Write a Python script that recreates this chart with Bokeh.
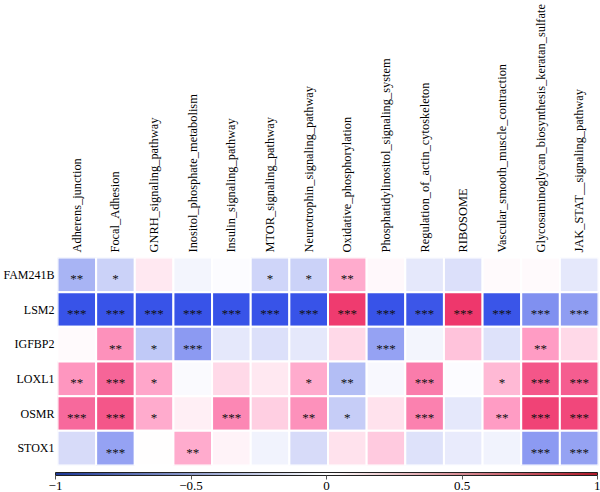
import numpy as np
from bokeh.plotting import figure
from bokeh.models import (ColumnDataSource, LinearColorMapper, ColorBar, FixedTicker)
from bokeh.core.properties import value
from bokeh.embed import file_html
from bokeh.resources import INLINE

# Pathways (columns) and genes (rows, top to bottom)
pathways = [
    "Adherens_junction", "Focal_Adhesion", "GNRH_signaling_pathway",
    "Inositol_phosphate_metabolism", "Insulin_signaling_pathway",
    "MTOR_signaling_pathway", "Neurotrophin_signaling_pathway",
    "Oxidative_phosphorylation", "Phosphatidylinositol_signaling_system",
    "Regulation_of_actin_cytoskeleton", "RIBOSOME",
    "Vascular_smooth_muscle_contraction",
    "Glycosaminoglycan_biosynthesis_keratan_sulfate",
    "JAK_STAT__signaling_pathway",
]
genes = ["FAM241B", "LSM2", "IGFBP2", "LOXL1", "OSMR", "STOX1"]

# Correlation coefficients, one list per gene (same order as pathways)
r_fam241b = [-0.35, -0.20, 0.10, -0.04, -0.01, -0.18, -0.20, 0.30, 0.03, -0.10, -0.13, 0.02, 0.02, -0.10]
r_lsm2 = [-0.86, -0.86, -0.86, -0.86, -0.86, -0.86, -0.86, 0.84, -0.86, -0.84, 0.86, -0.85, -0.55, -0.48]
r_igfbp2 = [0.02, 0.40, -0.25, -0.50, -0.10, -0.13, -0.10, 0.15, -0.45, -0.04, 0.22, -0.12, 0.35, 0.15]
r_loxl1 = [0.38, 0.62, 0.32, -0.02, 0.15, 0.10, 0.30, -0.30, -0.03, 0.50, -0.01, 0.25, 0.70, 0.66]
r_osmr = [0.60, 0.70, 0.30, 0.07, 0.45, 0.18, 0.40, -0.22, 0.12, 0.48, -0.10, 0.35, 0.80, 0.78]
r_stox1 = [-0.15, -0.45, 0.00, 0.30, 0.05, -0.05, -0.15, 0.12, 0.20, -0.12, -0.08, -0.05, -0.50, -0.45]

# Significance marks
s_fam241b = ["**", "*", "", "", "", "*", "*", "**", "", "", "", "", "", ""]
s_lsm2 = ["***"] * 14
s_igfbp2 = ["", "**", "*", "***", "", "", "", "", "***", "", "", "", "**", ""]
s_loxl1 = ["**", "***", "*", "", "", "", "*", "**", "", "***", "", "*", "***", "***"]
s_osmr = ["***", "***", "*", "", "***", "", "**", "*", "", "***", "", "**", "***", "***"]
s_stox1 = ["", "***", "", "**", "", "", "", "", "", "", "", "", "***", "***"]

# Colour-bar ticks
cbar_ticks = [-1, -0.5, 0, 0.5, 1]
cbar_labels = ["\u22121", "\u22120.5", "0", "0.5", "1"]

r_rows = [r_fam241b, r_lsm2, r_igfbp2, r_loxl1, r_osmr, r_stox1]
s_rows = [s_fam241b, s_lsm2, s_igfbp2, s_loxl1, s_osmr, s_stox1]

xs, ys, rs, ss = [], [], [], []
for g, rr, sr in zip(genes, r_rows, s_rows):
    for pw, r, s in zip(pathways, rr, sr):
        xs.append(pw)
        ys.append(g)
        rs.append(r)
        ss.append(s)
src = ColumnDataSource(dict(x=xs, y=ys, r=rs, s=ss))


def ramp(stops, n=256):
    """Interpolate a palette from (position, hex) stops over [-1, 1]."""
    pos = np.array([p for p, _ in stops])
    rgb = np.array([[int(c[i:i + 2], 16) for i in (1, 3, 5)] for _, c in stops], dtype=float)
    t = np.linspace(-1, 1, n)
    out = []
    for v in t:
        col = [np.interp(v, pos, rgb[:, k]) for k in range(3)]
        out.append("#%02x%02x%02x" % tuple(int(round(c)) for c in col))
    return out


cell_palette = ramp([
    (-1.0, "#2a45e6"), (-0.85, "#3a55e8"), (-0.5, "#8c9af2"), (-0.35, "#a8b4f4"),
    (-0.13, "#dce0fa"), (0.0, "#ffffff"), (0.13, "#ffe0ec"), (0.35, "#ff9cc4"),
    (0.6, "#f7699c"), (0.85, "#ef3a6e"), (1.0, "#e82060"),
])
bar_palette = ramp([(-1.0, "#1c3796"), (0.0, "#ffffff"), (1.0, "#b01a2a")])

cell_mapper = LinearColorMapper(palette=cell_palette, low=-1, high=1)
bar_mapper = LinearColorMapper(palette=bar_palette, low=-1, high=1)

FONT = "'Liberation Serif', serif"

p = figure(width=600, height=492, x_range=pathways, y_range=list(reversed(genes)),
           x_axis_location="above", output_backend="svg", toolbar_location=None,
           min_border_left=57, min_border_right=2, min_border_top=257,
           min_border_bottom=27, outline_line_color=None)

p.rect(x="x", y="y", width=1, height=1, source=src,
       fill_color={"field": "r", "transform": cell_mapper},
       line_color="white", line_width=2)

p.text(x="x", y="y", text="s", source=src, text_align="center",
       text_baseline="middle", y_offset=4, text_color="#111111",
       text_font=value(FONT), text_font_size="13px")

p.grid.grid_line_color = None
for ax in (p.xaxis[0], p.yaxis[0]):
    ax.axis_line_color = None
    ax.major_tick_line_color = None
    ax.minor_tick_line_color = None
    ax.major_tick_out = 0
    ax.major_tick_in = 0
    ax.minor_tick_out = 0
    ax.minor_tick_in = 0
    ax.major_label_text_font = FONT
    ax.major_label_text_color = "black"
p.xaxis.major_label_orientation = "vertical"
p.xaxis.major_label_text_font_size = "12.4px"
p.xaxis.major_label_standoff = 5
p.yaxis.major_label_text_font_size = "12px"
p.yaxis.major_label_standoff = 3

# Colour bar sits just under the heatmap, spanning its full width
cbar = ColorBar(color_mapper=bar_mapper, orientation="horizontal",
                width=542, height=3, padding=0, margin=0,
                location=(-2, -27),
                ticker=FixedTicker(ticks=cbar_ticks),
                major_label_overrides=dict(zip(cbar_ticks, cbar_labels)),
                bar_line_color="#222222", bar_line_width=1,
                major_tick_in=0, major_tick_out=4, major_tick_line_color="#555555",
                minor_tick_line_color=None, label_standoff=2,
                major_label_text_font=FONT, major_label_text_font_size="13px",
                major_label_text_color="black",
                background_fill_alpha=0, border_line_color=None)
p.add_layout(cbar, "center")

open("out.html", "w").write(file_html(p, INLINE))
